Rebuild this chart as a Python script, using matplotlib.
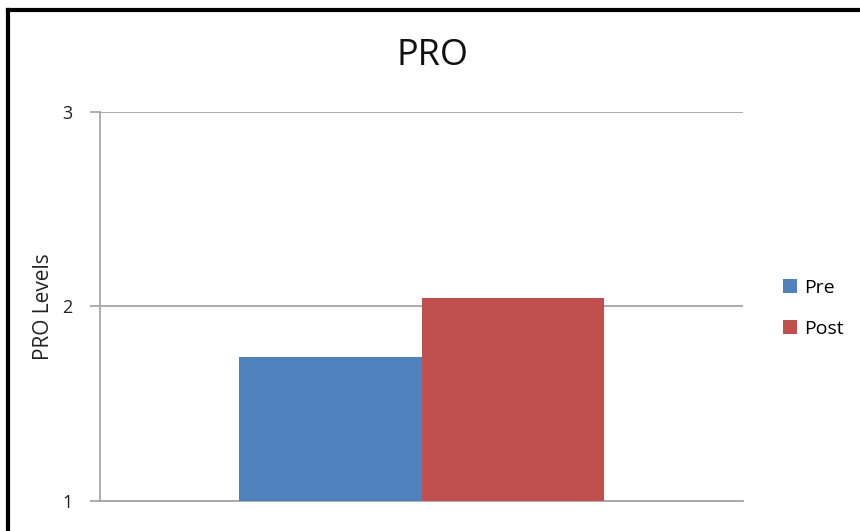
import matplotlib.pyplot as plt
from matplotlib.lines import Line2D

# data
groups = ["Pre", "Post"]
values = [1.74, 2.04]
colors = ["#4f81bd", "#c0504d"]
y_ticks = [1, 2, 3]

plt.rcParams["font.family"] = ["Open Sans", "DejaVu Sans"]

fig = plt.figure(figsize=(8.6, 5.31), dpi=100)
ax = fig.add_axes([100 / 860, 30.5 / 531, 643 / 860, 388.5 / 531])

bar_w = 0.2846
offsets = [-bar_w / 2, bar_w / 2]
for name, val, col, off in zip(groups, values, colors, offsets):
    ax.bar(off, val - 1, width=bar_w, bottom=1, color=col, label=name, zorder=3)

ax.set_xlim(-0.5, 0.5)
ax.set_ylim(1, 3)
ax.set_yticks(y_ticks)
ax.set_xticks([])
ax.yaxis.grid(True, color="#a6a6a6", linewidth=1.3, zorder=0)
ax.tick_params(axis="y", length=7, width=1.3, color="#a6a6a6", labelsize=13,
               labelcolor="#222222", pad=13)
for s in ["top", "right"]:
    ax.spines[s].set_visible(False)
for s in ["left", "bottom"]:
    ax.spines[s].set_color("#a6a6a6")
    ax.spines[s].set_linewidth(1.3)

ax.set_ylabel("PRO Levels", fontsize=15, color="#222222")
ax.yaxis.set_label_coords(-0.072, 0.5)
fig.text(433 / 860, 1 - 56 / 531, "PRO", fontsize=26, ha="center", va="center",
         color="#111111")

leg = ax.legend(loc="center left", bbox_to_anchor=(1.035, 0.495), frameon=False,
                fontsize=14, handlelength=0.7, handleheight=0.7, handletextpad=0.4,
                labelspacing=1.2)

# black frame (top and left visible)
fig.add_artist(Line2D([7.5 / 860, 7.5 / 860], [0, 1 - 10 / 531], color="black",
                      linewidth=3, transform=fig.transFigure, solid_capstyle="projecting"))
fig.add_artist(Line2D([7.5 / 860, 1], [1 - 10 / 531, 1 - 10 / 531], color="black",
                      linewidth=3, transform=fig.transFigure, solid_capstyle="projecting"))

fig.savefig("out.png", dpi=100)
